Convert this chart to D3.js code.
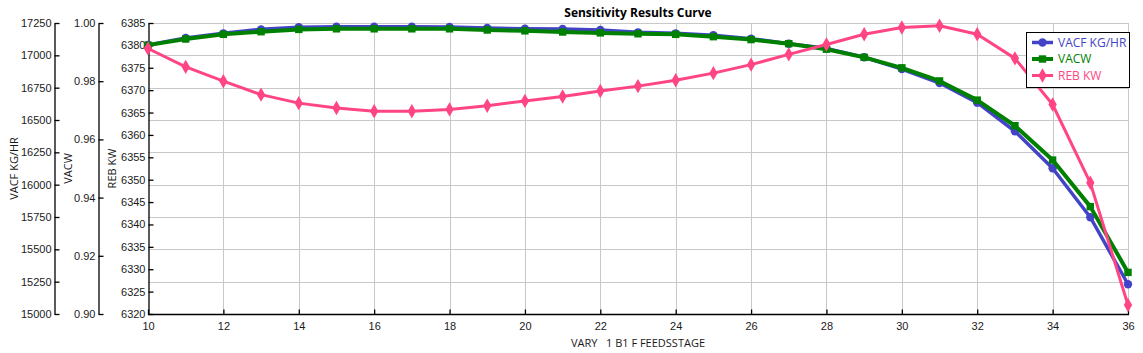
<!DOCTYPE html>
<html>
<head>
<meta charset="utf-8">
<script src="https://cdn.jsdelivr.net/npm/d3@7"></script>
<style>
  body { margin: 0; background: #fff; }
  svg { display: block; font-family: "Open Sans", sans-serif; }
</style>
</head>
<body>
<svg id="chart"></svg>
<script>
// feed stage values on the x axis
const stages = [10, 11, 12, 13, 14, 15, 16, 17, 18, 19, 20, 21, 22, 23, 24, 25, 26, 27, 28, 29, 30, 31, 32, 33, 34, 35, 36];

const vacf = [17080, 17134, 17170, 17201, 17217, 17221, 17221, 17221, 17220, 17211, 17206, 17204, 17196, 17178,
  17170, 17155, 17129, 17090, 17054, 16985, 16894, 16786, 16634, 16413, 16127, 15748, 15230];

const vacw = [0.9924, 0.9945, 0.9961, 0.9970, 0.9978, 0.9980, 0.9980, 0.9980, 0.9980, 0.9976, 0.9973, 0.9969,
  0.9966, 0.9963, 0.9961, 0.9953, 0.9943, 0.9929, 0.9910, 0.9882, 0.9846, 0.9801, 0.9735, 0.9647, 0.9529,
  0.9369, 0.9143];

const reb = [6379.3, 6375.2, 6372.0, 6369.0, 6367.1, 6366.0, 6365.3, 6365.3, 6365.7, 6366.5, 6367.6, 6368.6,
  6369.8, 6370.9, 6372.2, 6373.8, 6375.7, 6378.0, 6380.2, 6382.5, 6384.0, 6384.4, 6382.5, 6377.1, 6366.8,
  6349.3, 6322.0];

const xTicks = [10, 12, 14, 16, 18, 20, 22, 24, 26, 28, 30, 32, 34, 36];
const vacfTicks = [15000, 15250, 15500, 15750, 16000, 16250, 16500, 16750, 17000, 17250];
const vacwTicks = [0.90, 0.92, 0.94, 0.96, 0.98, 1.00];
const rebTicks = d3.range(6320, 6386, 5);

const w = 1143;
const h = 353;
const pLeft = 148;
const pRight = 1128;
const pTop = 23;
const pBottom = 314;

const svg = d3.select("#chart").attr("width", w).attr("height", h);

const xScale = d3.scaleLinear().domain([10, 36]).range([pLeft, pRight]);
const yVacf = d3.scaleLinear().domain([15000, 17250]).range([pBottom, pTop]);
const yVacw = d3.scaleLinear().domain([0.90, 1.00]).range([pBottom, pTop]);
const yReb = d3.scaleLinear().domain([6320, 6385]).range([pBottom, pTop]);

// grid
const grid = svg.append("g").attr("stroke", "#c8c8c8").attr("stroke-width", 1);
grid.selectAll("line.v")
  .data(xTicks.slice(1))
  .enter()
  .append("line")
  .attr("x1", (d) => Math.round(xScale(d)) + 0.5)
  .attr("x2", (d) => Math.round(xScale(d)) + 0.5)
  .attr("y1", pTop)
  .attr("y2", pBottom);
grid.selectAll("line.h")
  .data(vacfTicks.slice(1))
  .enter()
  .append("line")
  .attr("x1", pLeft)
  .attr("x2", pRight + 1)
  .attr("y1", (d) => Math.round(yVacf(d)) + 0.5)
  .attr("y2", (d) => Math.round(yVacf(d)) + 0.5);

// axes
const styleAxis = (g) => {
  g.select(".domain").attr("stroke", "#000").attr("stroke-width", 1.3);
  g.selectAll(".tick line").attr("stroke", "#000").attr("stroke-width", 1.3);
  g.selectAll(".tick text").attr("fill", "#1a1a1a").attr("font-size", "11px");
};

const mkY = (scale, ticks, fmt, x) => {
  const ax = d3.axisRight(scale).tickValues(ticks).tickFormat(fmt).tickSize(5).tickSizeOuter(0);
  const g = svg.append("g")
    .attr("transform", "translate(" + x + ",0)")
    .call(ax)
    .call(styleAxis);
  g.selectAll(".tick text").attr("text-anchor", "end").attr("x", -3);
  return g;
};

mkY(yVacf, vacfTicks, d3.format("d"), 54.5);
mkY(yVacw, vacwTicks, d3.format(".2f"), 98.5);
mkY(yReb, rebTicks, d3.format("d"), 148.5);

const xAxis = d3.axisBottom(xScale).tickValues(xTicks).tickSize(5).tickSizeOuter(0);
const xg = svg.append("g")
  .attr("transform", "translate(0," + (pBottom + 0.5) + ")")
  .call(xAxis)
  .call(styleAxis);
xg.selectAll(".tick line").attr("y2", -5);
xg.selectAll(".tick text").attr("y", 8);
xg.select(".domain").attr("d", "M" + pLeft + ",0H" + (pRight + 1));

// axis titles
const yTitle = (txt, x) => svg.append("text")
  .attr("transform", "translate(" + x + "," + (pTop + pBottom) / 2 + ") rotate(-90)")
  .attr("text-anchor", "middle")
  .attr("font-size", "11px")
  .attr("fill", "#1a1a1a")
  .text(txt);
yTitle("VACF KG/HR", 18);
yTitle("VACW", 72);
yTitle("REB KW", 116);

svg.append("text")
  .attr("x", (pLeft + pRight) / 2)
  .attr("y", 347)
  .attr("text-anchor", "middle")
  .attr("font-size", "11px")
  .attr("fill", "#1a1a1a")
  .style("white-space", "pre")
  .text("VARY   1 B1 F FEEDSSTAGE");

svg.append("text")
  .attr("x", (pLeft + pRight) / 2)
  .attr("y", 17)
  .attr("text-anchor", "middle")
  .attr("font-size", "12px")
  .attr("font-weight", "bold")
  .attr("fill", "#000")
  .text("Sensitivity Results Curve");

// series
const series = [
  { name: "VACF KG/HR", values: vacf, y: yVacf, color: "#4343c8", width: 3.5, marker: d3.symbolCircle, size: 55 },
  { name: "VACW", values: vacw, y: yVacw, color: "#008000", width: 4, marker: d3.symbolSquare, size: 55 },
  { name: "REB KW", values: reb, y: yReb, color: "#ff4585", width: 3, marker: d3.symbolDiamond, size: 60 }
];

series.forEach((s) => {
  const line = d3.line()
    .x((d, i) => xScale(stages[i]))
    .y((d) => s.y(d));
  svg.append("path")
    .datum(s.values)
    .attr("fill", "none")
    .attr("stroke", s.color)
    .attr("stroke-width", s.width)
    .attr("stroke-linejoin", "round")
    .attr("d", line);
  svg.append("g")
    .selectAll("path")
    .data(s.values)
    .enter()
    .append("path")
    .attr("transform", (d, i) => "translate(" + xScale(stages[i]) + "," + s.y(d) + ")")
    .attr("d", d3.symbol().type(s.marker).size(s.size))
    .attr("fill", s.color);
});

// legend
const lg = svg.append("g").attr("transform", "translate(1026,32)");
lg.append("rect")
  .attr("x", 0.5).attr("y", 0.5)
  .attr("width", 103).attr("height", 55)
  .attr("fill", "#fff")
  .attr("stroke", "#000");
series.forEach((s, i) => {
  const yy = 10.5 + i * 16.5;
  lg.append("line")
    .attr("x1", 6).attr("x2", 27)
    .attr("y1", yy).attr("y2", yy)
    .attr("stroke", s.color)
    .attr("stroke-width", s.width);
  lg.append("path")
    .attr("transform", "translate(16.5," + yy + ")")
    .attr("d", d3.symbol().type(s.marker).size(s.size))
    .attr("fill", s.color);
  lg.append("text")
    .attr("x", 32)
    .attr("y", yy + 4)
    .attr("font-size", "12px")
    .attr("fill", s.color)
    .text(s.name);
});
</script>
</body>
</html>
